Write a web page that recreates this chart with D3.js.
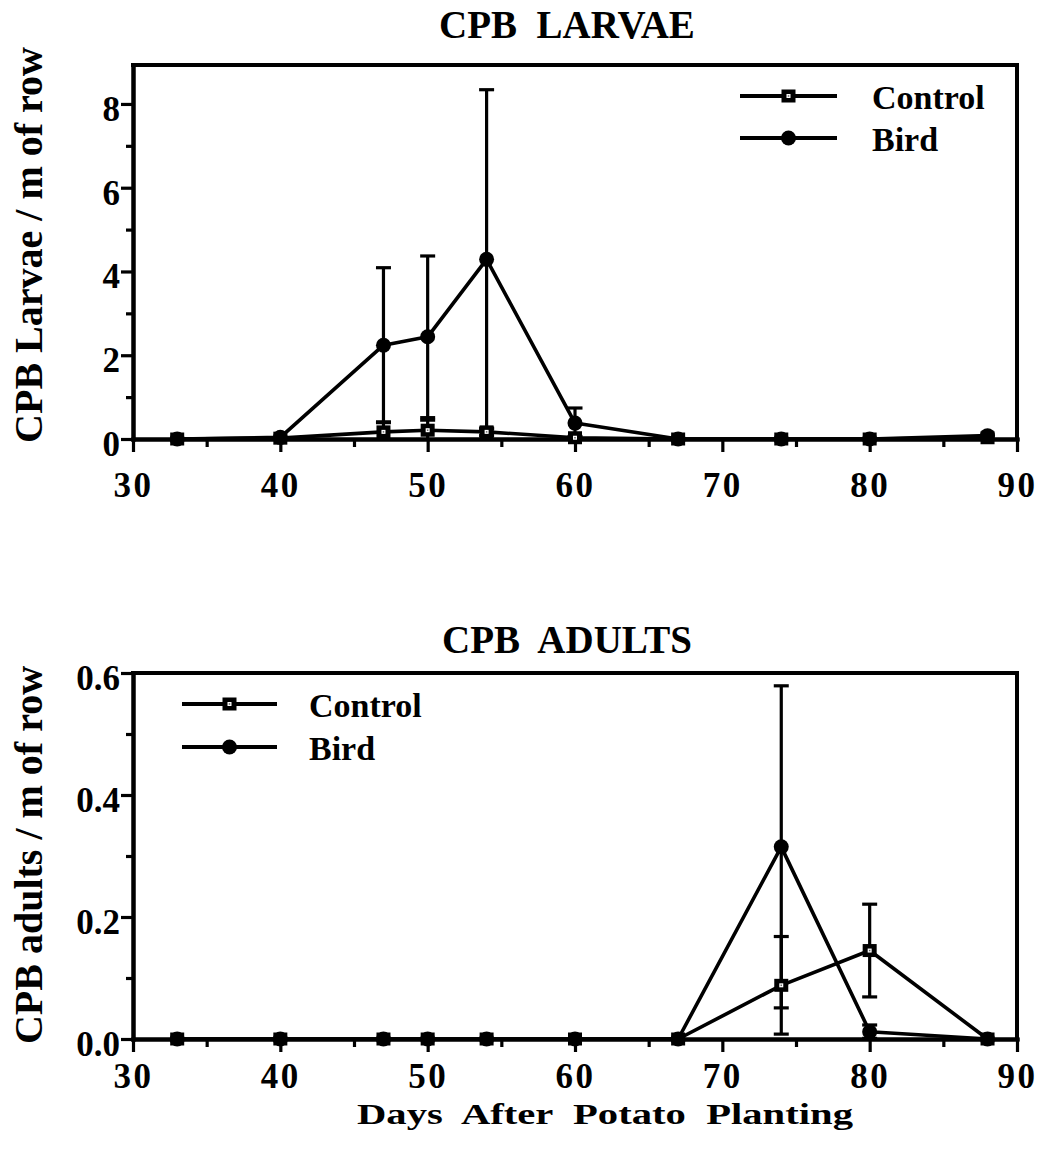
<!DOCTYPE html>
<html>
<head>
<meta charset="utf-8">
<script src="https://cdn.jsdelivr.net/npm/d3@7"></script>
<style>
  body { margin: 0; background: #fff; }
  svg text { font-family: "Liberation Serif", "Times New Roman", serif; font-weight: bold; fill: #000; }
</style>
</head>
<body>
<svg id="fig" width="1047" height="1150"></svg>
<script>
// Sampling days (days after potato planting)
const days = [33, 40, 47, 50, 54, 60, 67, 74, 80, 88];

// CPB larvae per m of row: means and standard errors
const larvaeControl    = [0, 0.02, 0.17, 0.21, 0.17, 0.03, 0, 0, 0, 0.03];
const larvaeControlErr = [0, 0,    0.24, 0.24, 0.09, 0.03, 0, 0, 0, 0];
const larvaeBird       = [0, 0.04, 2.24, 2.44, 4.29, 0.38, 0, 0, 0, 0.08];
const larvaeBirdErr    = [0, 0,    1.85, 1.93, 4.05, 0.36, 0, 0, 0, 0];

// CPB adults per m of row: means and standard errors
const adultControl    = [0, 0, 0, 0, 0, 0, 0, 0.088, 0.145, 0];
const adultControlErr = [0, 0, 0, 0, 0, 0, 0, 0.08,  0.076, 0];
const adultBird       = [0, 0, 0, 0, 0, 0, 0, 0.315, 0.012, 0];
const adultBirdErr    = [0, 0, 0, 0, 0, 0, 0, 0.264, 0.011, 0];

// Axis ticks
const xTicks = [30, 40, 50, 60, 70, 80, 90];
const xMinorTicks = [35, 45, 55, 65, 75, 85];
const larvaeTicks = [0, 2, 4, 6, 8];
const larvaeMinorTicks = [1, 3, 5, 7];
const adultTicks = [0, 0.2, 0.4, 0.6];
const adultMinorTicks = [0.1, 0.3, 0.5];

const seriesNames = ["Control", "Bird"];

const svg = d3.select("#fig");
const X0 = 133, X1 = 1017;
const STROKE = 4;

function drawSquare(g, cx, cy) {
  g.append("rect").attr("x", cx - 7).attr("y", cy - 6.5).attr("width", 14).attr("height", 13).attr("fill", "#000");
  g.append("rect").attr("x", cx - 2).attr("y", cy - 2).attr("width", 4).attr("height", 4).attr("fill", "#fff");
  g.append("rect").attr("x", cx - 0.75).attr("y", cy - 0.75).attr("width", 1.5).attr("height", 1.5).attr("fill", "#666");
}
function drawCircle(g, cx, cy) {
  g.append("circle").attr("cx", cx).attr("cy", cy).attr("r", 7.5).attr("fill", "#000");
}

function panel(o) {
  const g = svg.append("g");
  const x = d3.scaleLinear().domain([30, 90]).range([X0, X1]);
  const y = d3.scaleLinear().domain([0, o.yMax]).range([o.bottom, o.top]);

  // top and right sides of the frame
  g.append("path")
    .attr("d", `M${X0},${o.top}H${X1}V${o.bottom}`)
    .attr("fill", "none").attr("stroke", "#000")
    .attr("stroke-width", STROKE).attr("stroke-linecap", "square");

  const xa = g.append("g").attr("transform", `translate(0,${o.bottom})`)
    .call(d3.axisBottom(x).tickValues(xTicks).tickSize(13).tickSizeOuter(0).tickFormat(d3.format("d")));
  const xm = g.append("g").attr("transform", `translate(0,${o.bottom})`)
    .call(d3.axisBottom(x).tickValues(xMinorTicks).tickSize(8).tickSizeOuter(0).tickFormat(""));
  const ya = g.append("g").attr("transform", `translate(${X0},0)`)
    .call(d3.axisLeft(y).tickValues(o.ticks).tickSize(12).tickSizeOuter(0).tickFormat(o.fmt));
  const ym = g.append("g").attr("transform", `translate(${X0},0)`)
    .call(d3.axisLeft(y).tickValues(o.minor).tickSize(7).tickSizeOuter(0).tickFormat(""));

  [xa, xm, ya, ym].forEach(a => {
    a.selectAll(".domain").attr("stroke", "#000").attr("stroke-width", STROKE).attr("stroke-linecap", "square");
    a.selectAll(".tick line").attr("stroke", "#000").attr("stroke-width", 3.2);
  });
  xa.selectAll(".tick text")
    .attr("y", o.xLabelY).attr("dy", 0)
    .style("font-size", "35px").style("letter-spacing", "2.5px");
  ya.selectAll(".tick text")
    .attr("x", -13).attr("dy", "0.47em")
    .style("font-size", "35px");

  // title
  g.append("text").attr("x", 567).attr("y", o.titleY)
    .attr("text-anchor", "middle").style("font-size", "39px").style("white-space", "pre")
    .text(o.title);

  // y-axis label
  g.append("text")
    .attr("transform", `translate(42,${o.labelY}) rotate(-90)`)
    .attr("text-anchor", "middle").style("font-size", "40px")
    .text(o.yLabel);

  const line = d3.line().x(d => x(d.day)).y(d => y(d.v));
  const rows = o.series.map(s => days.map((day, i) => ({ day, v: s.v[i], e: s.e[i] })));

  // error bars
  const eb = g.append("g").attr("stroke", "#000").attr("stroke-width", 3.2);
  rows.forEach(r => r.filter(d => d.e > 0).forEach(d => {
    const cx = x(d.day);
    const lo = Math.max(0, d.v - d.e), hi = d.v + d.e;
    eb.append("line").attr("x1", cx).attr("x2", cx).attr("y1", y(lo)).attr("y2", y(hi));
    eb.append("line").attr("x1", cx - 7.5).attr("x2", cx + 7.5).attr("y1", y(hi)).attr("y2", y(hi));
    if (d.v - d.e > 0) eb.append("line").attr("x1", cx - 7.5).attr("x2", cx + 7.5).attr("y1", y(lo)).attr("y2", y(lo));
  }));

  // series lines
  rows.forEach(r => g.append("path").datum(r).attr("d", line)
    .attr("fill", "none").attr("stroke", "#000").attr("stroke-width", 3.6).attr("stroke-linejoin", "round"));

  // markers: control squares, bird circles
  const mk = g.append("g");
  rows[0].forEach(d => drawSquare(mk, x(d.day), y(d.v)));
  rows[1].forEach(d => drawCircle(mk, x(d.day), y(d.v)));

  // legend
  const lg = g.append("g");
  seriesNames.forEach((name, i) => {
    const ly = o.legend.y + i * o.legend.gap;
    lg.append("line").attr("x1", o.legend.x0).attr("x2", o.legend.x1).attr("y1", ly).attr("y2", ly)
      .attr("stroke", "#000").attr("stroke-width", STROKE);
    const mx = (o.legend.x0 + o.legend.x1) / 2;
    if (i === 0) drawSquare(lg, mx, ly); else drawCircle(lg, mx, ly);
    lg.append("text").attr("x", o.legend.tx).attr("y", ly + 13)
      .style("font-size", "34px").text(name);
  });
}

panel({
  top: 65, bottom: 439, yMax: 8.93,
  ticks: larvaeTicks, minor: larvaeMinorTicks, fmt: d3.format("d"),
  xLabelY: 58, title: "CPB  LARVAE", titleY: 38,
  yLabel: "CPB Larvae / m of row", labelY: 245,
  series: [{ v: larvaeControl, e: larvaeControlErr }, { v: larvaeBird, e: larvaeBirdErr }],
  legend: { x0: 740, x1: 837, y: 96, gap: 42, tx: 872 }
});

panel({
  top: 673, bottom: 1039, yMax: 0.6,
  ticks: adultTicks, minor: adultMinorTicks, fmt: d3.format(".1f"),
  xLabelY: 49, title: "CPB  ADULTS", titleY: 653,
  yLabel: "CPB adults / m of row", labelY: 855,
  series: [{ v: adultControl, e: adultControlErr }, { v: adultBird, e: adultBirdErr }],
  legend: { x0: 182, x1: 277, y: 704, gap: 43, tx: 309 }
});

// shared x-axis title
svg.append("text").attr("x", 357).attr("y", 1124)
  .attr("textLength", 496).attr("lengthAdjust", "spacingAndGlyphs")
  .style("font-size", "30px").style("white-space", "pre")
  .text("Days  After  Potato  Planting");
</script>
</body>
</html>
